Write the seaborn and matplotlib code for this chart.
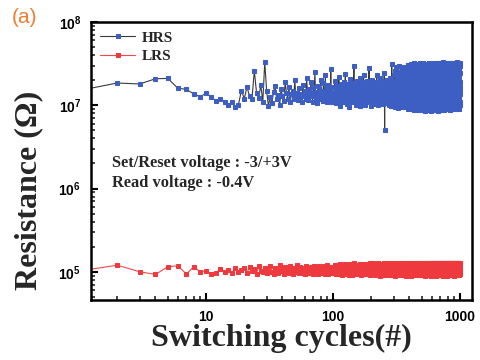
import numpy as np
import pandas as pd
import matplotlib
matplotlib.use("Agg")
import matplotlib.pyplot as plt
import matplotlib.ticker as mticker
import seaborn as sns

# HRS resistance per cycle, units of 1e5 ohm
hrs_1e5 = [
    150, 185, 180, 208, 210, 160, 155, 137, 126, 140, 126, 112, 120, 110, 100, 108, 96, 102, 150, 120,
    165, 130, 118, 260, 140, 122, 175, 110, 330, 150, 98, 125, 105, 145, 170, 118, 132, 100, 155, 128,
    112, 190, 140, 120, 165, 108, 135, 150, 118, 200, 128, 142, 115, 160, 125, 138, 110, 175, 130, 148,
    120, 210, 135, 115, 158, 128, 190, 142, 110, 165, 130, 250, 120, 145, 105, 170, 135, 155, 118, 200,
    128, 148, 112, 185, 138, 122, 230, 140, 108, 160, 132, 175, 118, 150, 125, 270, 135, 110, 165, 142,
    140, 118, 195, 125, 160, 105, 172, 133, 148, 112, 220, 128, 155, 99, 180, 137, 122, 165, 145, 110,
    190, 130, 152, 118, 240, 126, 168, 104, 145, 178, 120, 135, 160, 96, 205, 142, 115, 170, 128, 150,
    108, 185, 138, 124, 158, 300, 117, 146, 132, 175, 102, 162, 140, 119, 198, 127, 153, 111, 168, 136,
    122, 210, 145, 98, 176, 131, 155, 114, 188, 139, 126, 164, 107, 232, 148, 120, 171, 134, 159, 101,
    183, 127, 150, 116, 196, 143, 109, 167, 135, 154, 121, 280, 138, 112, 174, 129, 161, 97, 187, 144,
    118, 163, 132, 203, 125, 152, 106, 179, 140, 123, 168, 115, 192, 136, 149, 103, 172, 130, 158, 113,
    228, 134, 119, 166, 145, 100, 185, 128, 155, 117, 176, 139, 124, 210, 133, 150, 108, 169, 142, 126,
    160, 111, 195, 137, 122, 175, 146, 104, 182, 130, 157, 115, 245, 140, 50, 165, 119, 188, 135, 152,
    107, 178, 143, 125, 199, 132, 160, 113, 172, 138, 120, 190, 147, 101, 168, 129, 156, 117, 214, 141,
    124, 170, 135, 98, 186, 150, 118, 163, 131, 310, 144, 109, 177, 127, 153, 121, 195, 139, 112, 166,
    145, 102, 230, 128, 176, 95, 260, 137, 118, 198, 150, 110, 285, 132, 165, 99, 210, 142, 124, 180,
    105, 250, 135, 160, 92, 195, 147, 120, 300, 128, 170, 100, 225, 140, 115, 188, 155, 97, 240, 133,
    172, 112, 205, 126, 150, 94, 270, 138, 162, 108, 218, 131, 185, 101, 245, 144, 119, 196, 134, 158,
    96, 232, 141, 117, 290, 129, 167, 103, 208, 152, 122, 258, 136, 179, 98, 215, 146, 113, 190, 127,
    265, 109, 184, 139, 157, 91, 236, 130, 174, 116, 302, 143, 121, 200, 135, 163, 100, 248, 148, 111,
    193, 125, 277, 104, 160, 142, 222, 95, 310, 133, 170, 114, 252, 148, 89, 205, 127, 285, 138, 106,
    240, 118, 180, 93, 295, 150, 131, 215, 102, 268, 144, 122, 190, 87, 320, 136, 165, 110, 230, 128,
    98, 275, 154, 119, 208, 90, 300, 140, 173, 107, 245, 132, 186, 95, 262, 147, 124, 219, 101, 290,
    157, 112, 235, 88, 312, 139, 168, 103, 255, 126, 198, 94, 280, 145, 116, 226, 135, 99, 305, 152,
    121, 210, 97, 270, 141, 180, 106, 325, 130, 160, 89, 250, 149, 115, 195, 92, 288, 137, 172, 108,
    238, 127, 305, 96, 178, 143, 258, 110, 200, 88, 318, 134, 162, 101, 242, 151, 119, 276, 93, 215,
    146, 104, 296, 129, 185, 91, 265, 138, 170, 113, 228, 86, 310, 155, 122, 203, 98, 282, 140, 166,
    109, 248, 132, 315, 94, 190, 147, 118, 272, 100, 222, 136, 87, 300, 158, 125, 208, 95, 262, 143,
    175, 90, 290, 128, 168, 105, 323, 139, 196, 111, 255, 88, 230, 150, 120, 285, 97, 212, 134, 162,
    102, 268, 145, 182, 92, 308, 126, 240, 114, 198, 86, 278, 153, 131, 220, 99, 295, 141, 170, 107,
    250, 118, 185, 89, 316, 137, 160, 103, 270, 129, 205, 93, 288, 148, 115, 232, 96, 302, 140, 176,
    110, 260, 133, 193, 87, 325, 151, 122, 245, 100, 215, 138, 91, 298, 164, 127, 280, 94, 226, 145,
    180, 97, 310, 130, 172, 106, 265, 142, 200, 88, 292, 155, 119, 238, 101, 318, 136, 168, 112, 255,
    92, 283, 147, 188, 95, 305, 128, 248, 116, 210, 86, 275, 159, 134, 225, 98, 320, 143, 178, 105,
    262, 121, 196, 90, 300, 139, 166, 108, 285, 131, 218, 94, 312, 150, 117, 242, 99, 278, 146, 183,
    113, 252, 136, 205, 88, 322, 154, 125, 270, 102, 230, 140, 93, 295, 161, 129, 287, 96, 235, 148,
    186, 100, 315, 133, 175, 109, 258, 145, 212, 89, 303, 157, 120, 245, 104, 326, 138, 171, 115, 266,
    95, 290, 150, 192, 91, 310, 127, 255, 118, 220, 87, 282, 162, 135, 232, 97, 318, 144, 181, 107,
    272, 124, 200, 92, 306, 141, 169, 111, 290, 132, 226, 95, 314, 152, 119, 250, 100, 285, 147, 188,
    116, 258, 138, 210, 89, 324, 156, 127, 276, 103, 238, 142, 94, 300, 163, 130, 292, 97, 240, 149,
    190, 101, 318, 134, 178, 110, 262, 146, 216, 90, 308, 158, 121, 248, 105, 322, 139, 173, 116, 270,
    96, 293, 151, 195, 92, 312, 128, 258, 119, 224, 88, 285, 163, 136, 236, 98, 320, 145, 184, 108,
    276, 125, 203, 93, 308, 142, 171, 112, 294, 133, 230, 96, 316, 153, 120, 254, 101, 288, 148, 191,
    117, 262, 139, 214, 90, 325, 157, 128, 280, 104, 242, 143, 95, 304, 164, 131, 296, 98, 244, 150,
    193, 102, 320, 135, 180, 111, 266, 147, 220, 91, 310, 159, 122, 252, 106, 324, 140, 175, 117, 274,
    97, 296, 152, 198, 93, 314, 129, 262, 120, 228, 89, 288, 164, 137, 240, 99, 322, 146, 187, 109,
    280, 126, 206, 94, 310, 143, 173, 113, 298, 134, 234, 97, 318, 154, 121, 258, 102, 291, 149, 194,
    118, 266, 140, 218, 91, 326, 158, 129, 284, 105, 246, 144, 96, 306, 165, 132, 300, 99, 248, 151,
    196, 103, 322, 136, 182, 112, 270, 148, 224, 92, 312, 160, 123, 256, 107, 325, 141, 177, 118, 278,
    98, 300, 153, 201, 94, 316, 130, 266, 121, 232, 90, 292, 165, 138, 244, 100, 324, 147, 190, 110,
]

# LRS resistance per cycle, units of 1e3 ohm
lrs_1e3 = [
    102, 120, 100, 93, 115, 118, 94, 115, 100, 103, 95, 98, 108, 100, 105, 96, 112, 99, 104, 110,
    97, 114, 101, 108, 95, 119, 103, 99, 112, 96, 106, 117, 100, 94, 110, 104, 98, 121, 102, 107,
    95, 113, 100, 109, 97, 116, 104, 94, 111, 99, 107, 120, 101, 96, 114, 103, 98, 110, 105, 93,
    118, 100, 106, 96, 112, 102, 115, 97, 108, 94, 119, 103, 99, 111, 105, 95, 116, 101, 109, 98,
    104, 96, 113, 100, 117, 95, 107, 110, 99, 121, 102, 94, 112, 106, 97, 115, 103, 100, 108, 96,
    110, 97, 122, 101, 115, 93, 108, 119, 99, 112, 104, 95, 124, 106, 100, 117, 92, 111, 103, 120,
    98, 114, 105, 125, 94, 109, 118, 101, 96, 121, 107, 113, 91, 116, 102, 123, 99, 110, 95, 118,
    106, 92, 119, 103, 112, 97, 126, 100, 115, 94, 108, 122, 98, 111, 104, 93, 120, 107, 101, 117,
    95, 123, 102, 109, 99, 116, 91, 113, 105, 124, 97, 110, 118, 100, 94, 121, 106, 112, 96, 119,
    114, 100, 125, 93, 108, 120, 98, 117, 103, 95, 122, 107, 101, 115, 92, 126, 104, 111, 99, 118,
    97, 121, 106, 113, 94, 127, 100, 110, 119, 96, 105, 123, 91, 116, 102, 108, 124, 98, 112, 103,
    120, 95, 111, 101, 126, 93, 117, 104, 99, 122, 107, 114, 90, 118, 100, 125, 96, 109, 115, 102,
    104, 118, 92, 124, 106, 112, 97, 120, 101, 127, 94, 109, 116, 99, 123, 103, 91, 113, 107, 121,
    93, 110, 125, 98, 115, 102, 122, 95, 108, 119, 100, 126, 92, 114, 105, 117, 97, 124, 101, 111,
    123, 99, 107, 117, 91, 121, 103, 113, 96, 126, 106, 100, 119, 94, 111, 125, 98, 116, 104, 92,
    108, 124, 95, 112, 120, 97, 127, 102, 115, 90, 118, 105, 122, 99, 109, 93, 126, 101, 114, 106,
    96, 117, 121, 100, 92, 125, 107, 111, 98, 123, 94, 116, 103, 127, 100, 110, 119, 95, 122, 105,
    119, 102, 113, 91, 126, 104, 96, 120, 109, 115, 101, 124, 93, 112, 118, 98, 107, 125, 92, 116,
    101, 126, 94, 118, 106, 123, 99, 114, 92, 121, 110, 97, 127, 103, 116, 90, 124, 108, 113, 100,
    125, 93, 117, 104, 111, 96, 122, 100, 127, 95, 113, 119, 102, 91, 120, 106, 115, 98, 126, 109,
    92, 114, 103, 127, 97, 119, 108, 94, 124, 101, 116, 90, 121, 105, 112, 125, 96, 118, 100, 123,
    111, 99, 126, 93, 120, 104, 115, 91, 123, 107, 96, 127, 102, 117, 94, 122, 109, 100, 124, 97,
    104, 127, 95, 116, 101, 125, 92, 113, 119, 98, 126, 106, 91, 121, 110, 96, 124, 103, 114, 118,
    123, 94, 110, 102, 126, 97, 118, 105, 92, 124, 100, 115, 127, 95, 112, 120, 99, 125, 107, 93,
    98, 121, 106, 125, 91, 114, 122, 96, 117, 103, 127, 93, 109, 124, 100, 119, 94, 126, 111, 102,
    116, 101, 127, 94, 119, 108, 92, 125, 99, 113, 123, 97, 120, 105, 91, 126, 103, 117, 96, 124,
    93, 125, 104, 118, 100, 126, 95, 111, 122, 98, 116, 90, 127, 107, 121, 94, 114, 124, 101, 119,
    120, 97, 113, 92, 127, 103, 123, 99, 109, 125, 94, 118, 102, 126, 96, 112, 91, 122, 106, 117,
    100, 124, 95, 121, 106, 92, 126, 110, 97, 119, 104, 127, 93, 115, 123, 99, 125, 108, 94, 120,
    127, 96, 118, 101, 124, 90, 114, 122, 98, 126, 107, 95, 121, 103, 117, 127, 92, 111, 125, 100,
    94, 119, 109, 126, 97, 123, 101, 91, 125, 112, 99, 120, 105, 127, 93, 116, 124, 96, 113, 122,
    115, 102, 125, 92, 120, 106, 127, 98, 117, 94, 124, 100, 111, 91, 126, 104, 121, 97, 118, 108,
    99, 126, 96, 123, 103, 116, 93, 125, 107, 120, 90, 127, 102, 114, 98, 124, 110, 95, 122, 105,
    124, 93, 112, 127, 100, 121, 97, 109, 126, 95, 118, 104, 92, 123, 115, 101, 127, 99, 106, 120,
    102, 125, 98, 115, 92, 127, 108, 120, 94, 124, 103, 117, 126, 96, 111, 91, 122, 105, 125, 97,
    118, 95, 127, 104, 122, 99, 113, 91, 126, 106, 119, 97, 124, 101, 127, 94, 116, 109, 92, 123,
    96, 121, 103, 126, 110, 93, 125, 100, 117, 127, 95, 122, 107, 90, 119, 112, 98, 126, 104, 114,
    126, 100, 116, 94, 124, 105, 120, 97, 127, 92, 113, 125, 99, 118, 103, 123, 96, 121, 108, 91,
    101, 127, 93, 119, 98, 125, 106, 114, 91, 122, 104, 126, 96, 115, 127, 100, 120, 94, 124, 110,
    121, 92, 124, 107, 117, 95, 127, 102, 111, 126, 98, 120, 93, 125, 105, 118, 90, 123, 100, 127,
    97, 122, 105, 127, 94, 115, 123, 99, 126, 108, 92, 121, 112, 96, 124, 101, 127, 106, 117, 93,
    125, 98, 119, 91, 126, 110, 96, 124, 103, 127, 94, 116, 122, 100, 113, 92, 125, 107, 120, 99,
    103, 126, 94, 121, 100, 127, 108, 92, 123, 115, 98, 125, 104, 119, 93, 126, 111, 97, 122, 106,
    119, 95, 125, 102, 116, 93, 124, 106, 127, 97, 120, 91, 126, 109, 101, 123, 96, 118, 127, 104,
    94, 124, 107, 126, 98, 120, 92, 127, 113, 101, 125, 96, 118, 105, 123, 90, 126, 110, 99, 121,
    122, 100, 117, 93, 127, 104, 121, 97, 125, 109, 95, 124, 102, 126, 94, 119, 107, 127, 98, 115,
    106, 125, 91, 123, 111, 96, 127, 103, 118, 94, 126, 100, 121, 92, 124, 108, 97, 125, 114, 101,
    124, 97, 120, 105, 126, 93, 116, 122, 99, 127, 102, 95, 125, 107, 119, 91, 123, 104, 126, 98,
    100, 127, 96, 118, 92, 124, 110, 125, 94, 121, 106, 126, 98, 115, 123, 101, 127, 93, 120, 108,
    126, 94, 123, 101, 119, 97, 127, 105, 92, 125, 112, 99, 124, 96, 121, 107, 126, 100, 117, 95,
]

cycles = np.arange(1, len(hrs_1e5) + 1)
df = pd.DataFrame({
    "cycle": cycles,
    "HRS": np.array(hrs_1e5) * 1e5,
    "LRS": np.array(lrs_1e3) * 1e3,
})

sns.set_style("ticks")
plt.rcParams["font.family"] = ["Liberation Serif", "DejaVu Serif"]
plt.rcParams["mathtext.fontset"] = "custom"
plt.rcParams["mathtext.rm"] = "Liberation Sans"
plt.rcParams["mathtext.bf"] = "Liberation Sans:bold"

fig = plt.figure(figsize=(4.81, 3.6), dpi=100)
ax = fig.add_axes([0.189, 0.167, 0.792, 0.772])

sns.lineplot(data=df, x="cycle", y="HRS", ax=ax, estimator=None, color="#3a3a3a",
             linewidth=0.8, marker="s", markersize=2.6, markerfacecolor="#3d5fc4",
             markeredgecolor="#3d5fc4", label="HRS")
sns.lineplot(data=df, x="cycle", y="LRS", ax=ax, estimator=None, color="#f2484b",
             linewidth=0.8, marker="s", markersize=2.2, markerfacecolor="#ee3a3e",
             markeredgecolor="#ee3a3e", label="LRS")

ax.set_xscale("log")
ax.set_yscale("log")
ax.set_xlim(1.24, 1240)
ax.set_ylim(4.6e4, 1e8)

ax.xaxis.set_major_locator(mticker.FixedLocator([10, 100, 1000]))
ax.xaxis.set_major_formatter(mticker.FixedFormatter(["10", "100", "1000"]))
ax.xaxis.set_minor_locator(mticker.LogLocator(base=10, subs=np.arange(2, 10)))
ax.yaxis.set_major_locator(mticker.FixedLocator([1e5, 1e6, 1e7, 1e8]))
ax.yaxis.set_major_formatter(mticker.FixedFormatter(
    [r"$\mathbf{10^{5}}$", r"$\mathbf{10^{6}}$", r"$\mathbf{10^{7}}$", r"$\mathbf{10^{8}}$"]))
ax.yaxis.set_minor_locator(mticker.LogLocator(base=10, subs=np.arange(2, 10)))
ax.xaxis.set_minor_formatter(mticker.NullFormatter())
ax.yaxis.set_minor_formatter(mticker.NullFormatter())

for lab in ax.get_xticklabels():
    lab.set_fontfamily("Liberation Sans")
    lab.set_fontweight("bold")
ax.tick_params(axis="both", which="major", direction="in", length=5, width=1.5,
               labelsize=10, pad=7, colors="black")
ax.tick_params(axis="both", which="minor", direction="in", length=3, width=1.2)
for sp in ax.spines.values():
    sp.set_linewidth(1.8)
    sp.set_color("black")

ax.set_xlabel("Switching cycles(#)", fontsize=23, fontweight="bold")
ax.set_ylabel("Resistance (\u03a9)", fontsize=23, fontweight="bold")
ax.xaxis.set_label_coords(0.5, -0.085)
ax.yaxis.set_label_coords(-0.125, 0.395)

ax.text(0.055, 0.478, "Set/Reset voltage : -3/+3V", transform=ax.transAxes,
        fontsize=11.8, fontweight="bold")
ax.text(0.055, 0.406, "Read voltage : -0.4V", transform=ax.transAxes,
        fontsize=11.8, fontweight="bold")

ax.legend(loc="upper left", frameon=False, prop={"weight": "bold", "size": 11},
          handlelength=2.3, handletextpad=0.4, borderaxespad=0.2, labelspacing=0.3)

fig.text(0.025, 0.935, "(a)", color="#ef7d32", fontsize=15, family="Liberation Sans")

fig.savefig("out.png", dpi=100)
